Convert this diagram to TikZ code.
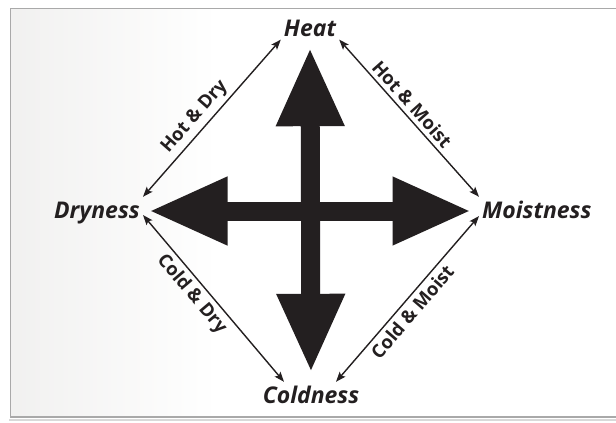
\documentclass[tikz,border=0pt]{standalone}
\usepackage{fontspec}
\setsansfont{Open Sans}
\usetikzlibrary{arrows.meta}
\definecolor{inkblack}{HTML}{231F20}
\definecolor{panelgray}{HTML}{DCDBD9}
\definecolor{panelrule}{HTML}{A9A9A9}
\pgfdeclarehorizontalshading{panelfade}{100bp}{color(0bp)=(panelgray); color(42bp)=(white); color(100bp)=(white)}

\begin{document}
\begin{tikzpicture}[x=1pt, y=-1pt,
    labelText/.style={font=\sffamily\bfseries\itshape\fontsize{23}{25}\selectfont, text=inkblack, inner sep=3pt, text height=18pt, text depth=4pt},
    pairText/.style={font=\sffamily\bfseries\fontsize{18.5}{20}\selectfont, text=inkblack, inner sep=4pt, sloped},
    bigArrow/.style={line width=19pt, draw=inkblack, {Triangle[length=79pt,width=63pt]}-{Triangle[length=79pt,width=63pt]}},
    thinArrow/.style={line width=1.4pt, draw=inkblack, {Stealth[length=10pt,width=7.5pt,inset=2pt]}-{Stealth[length=10pt,width=7.5pt,inset=2pt]}}
]
    \useasboundingbox (0,0) rectangle (616,423);
    % panel with fading left edge
    \shade[shading=panelfade] (10,8.5) rectangle (620,417);
    \draw[gray!30, line width=2pt] (9,420) -- (620,420);
    \draw[panelrule, line width=1.5pt] (620,8.5) -- (10.5,8.5) -- (10.5,417) -- (620,417);

    \node[labelText, anchor=base] (heat) at (310,36) {Heat};
    \node[labelText, anchor=base east] (dry) at (143,218) {Dryness};
    \node[labelText, anchor=base west] (moist) at (479,218) {Moistness};
    \node[labelText, anchor=base] (cold) at (311,403) {Coldness};

    % the cross
    \draw[bigArrow, shorten <=5.5pt, shorten >=7.5pt] (dry.east) -- (moist.west);
    \draw[bigArrow, shorten <=4pt, shorten >=9pt] (heat.south) -- (cold.north);

    % the pairs
    \draw[thinArrow] (dry.north east) -- node[pairText, above, pos=0.45] {Hot \& Dry} (heat.200);
    \draw[thinArrow] (heat.-20) -- node[pairText, above, pos=0.46] {Hot \& Moist} (moist.north west);
    \draw[thinArrow] (dry.-5) -- node[pairText, below, pos=0.42] {Cold \& Dry} ([xshift=-27pt]cold.north);
    \draw[thinArrow] ([xshift=25pt]cold.north) -- node[pairText, below, pos=0.47] {Cold \& Moist} (moist.185);
\end{tikzpicture}
\end{document}
